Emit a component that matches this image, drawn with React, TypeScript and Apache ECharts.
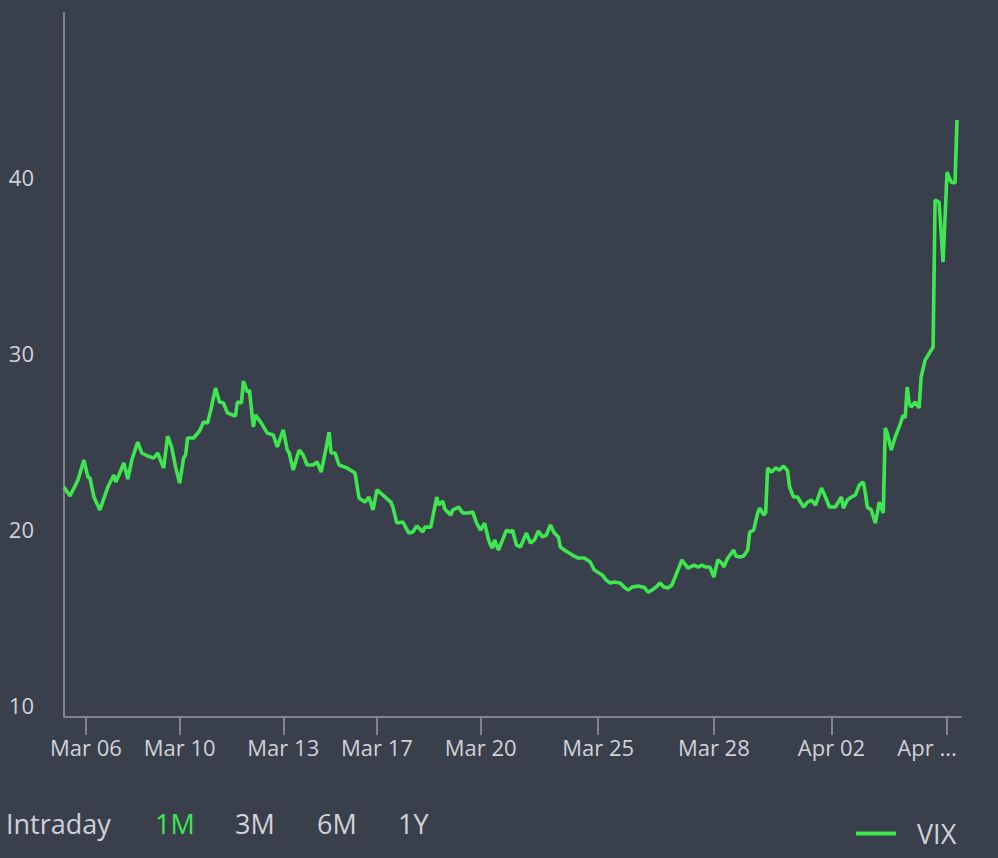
import React, { useEffect, useRef } from "react";
import * as echarts from "echarts";

// x positions (intraday bar index) and VIX values
const pointT = [
  0, 3, 7, 10, 12, 13, 15, 18, 22, 25, 26, 28, 30, 32, 34, 37, 39, 42, 45, 47, 48, 50, 52, 54, 56, 58, 60, 61, 62, 65,
  68, 70, 72, 74, 76, 78, 80, 82, 86, 87, 89, 90, 92, 93, 95, 96, 99, 102, 105, 107, 110, 112, 113, 115, 118, 120, 122,
  125, 127, 129, 131, 133, 134, 136, 138, 142, 146, 148, 151, 153, 155, 157, 160, 164, 165, 167, 170, 173, 175, 177, 180,
  181, 184, 187, 188, 190, 191, 194, 195, 198, 200, 203, 205, 207, 209, 211, 213, 214, 215, 216, 218, 220, 222, 224, 225,
  227, 229, 232, 234, 236, 238, 240, 242, 244, 246, 248, 249, 251, 255, 258, 261, 264, 266, 270, 272, 274, 276, 279, 281,
  283, 285, 288, 290, 291, 293, 295, 297, 299, 301, 303, 305, 308, 310, 313, 316, 318, 320, 322, 324, 326, 328, 330, 331,
  333, 336, 337, 339, 341, 343, 344, 346, 348, 349, 351, 352, 353, 355, 357, 359, 361, 363, 364, 366, 368, 371, 373, 375,
  377, 380, 382, 384, 387, 390, 391, 393, 395, 397, 399, 401, 402, 403, 405, 407, 408, 409, 411, 412, 413, 415, 417, 419,
  421, 422, 423, 424, 425, 427, 429, 430, 432, 436, 437, 439, 441, 443, 445, 447, 448,
];
const vixValues = [
  22.39, 21.88, 22.78, 23.92, 22.95, 22.9, 21.82, 21.08, 22.39, 23.07, 22.67, 23.18, 23.75, 22.84, 23.92, 24.94, 24.32,
  24.15, 24.03, 24.32, 24.03, 23.47, 25.28, 24.66, 23.52, 22.61, 24.03, 24.2, 25.17, 25.17, 25.57, 26.08, 26.02, 26.93,
  28.01, 27.22, 27.16, 26.59, 26.42, 27.22, 27.16, 28.41, 27.78, 27.9, 25.8, 26.48, 26.02, 25.45, 25.34, 24.66, 25.63,
  24.49, 24.32, 23.35, 24.49, 24.2, 23.64, 23.64, 23.81, 23.24, 24.32, 25.51, 24.32, 24.32, 23.64, 23.47, 23.18, 21.76,
  21.53, 21.82, 21.08, 22.22, 21.93, 21.53, 21.25, 20.34, 20.4, 19.77, 19.83, 20.17, 19.83, 20.11, 20.11, 21.82, 21.36,
  21.59, 21.14, 20.8, 21.08, 21.25, 20.91, 20.91, 20.97, 20.34, 19.94, 20.34, 19.38, 19.09, 18.92, 19.38, 18.81, 19.38,
  19.94, 19.83, 19.94, 19.09, 18.98, 19.77, 19.2, 19.38, 19.89, 19.55, 19.66, 20.23, 19.77, 19.55, 18.98, 18.81, 18.52,
  18.35, 18.35, 18.13, 17.67, 17.39, 17.1, 16.93, 16.99, 16.93, 16.7, 16.53, 16.7, 16.76, 16.7, 16.7, 16.42, 16.53, 16.7,
  16.93, 16.7, 16.65, 16.82, 17.67, 18.24, 17.78, 17.95, 17.84, 17.95, 17.84, 17.84, 17.27, 18.24, 18.07, 17.84, 18.35,
  18.81, 18.47, 18.41, 18.47, 18.81, 19.83, 19.94, 20.91, 21.19, 20.8, 20.91, 23.47, 23.24, 23.47, 23.35, 23.58, 23.3,
  22.39, 21.82, 21.82, 21.25, 21.53, 21.65, 21.36, 22.33, 21.82, 21.25, 21.25, 21.82, 21.19, 21.65, 21.82, 21.93, 22.5,
  22.67, 22.05, 21.25, 21.08, 20.34, 20.91, 21.53, 20.91, 25.74, 25.45, 24.49, 25.23, 25.8, 26.48, 26.31, 28.07, 27.16,
  26.93, 27.22, 26.88, 28.64, 29.6, 30.34, 38.69, 38.58, 35.17, 40.28, 39.72, 39.66, 43.24,
];

const tickT = [11, 58, 110, 157, 209, 268, 326, 385, 443];
const tickLabels = ["Mar 06", "Mar 10", "Mar 13", "Mar 17", "Mar 20", "Mar 25", "Mar 28", "Apr 02", "Apr ..."];
const yTicks = [10, 20, 30, 40];
const rangeButtons = ["Intraday", "1M", "3M", "6M", "1Y"];
const rangeLeft = [6, 155, 235, 317, 398];
const activeRange = "1M";

const BG = "#3a3f4c";
const TEXT = "#cfd2d9";
const AXIS = "#80848c";
const GREEN = "#3ee650";
const FONT = "'Open Sans', 'Noto Sans', sans-serif";

export default function App() {
  const ref = useRef<HTMLDivElement>(null);
  useEffect(() => {
    if (!ref.current) return;
    const chart = echarts.init(ref.current, undefined, { renderer: "svg" });
    const data = pointT.map((t, i) => [t, vixValues[i]]);
    chart.setOption({
      animation: false,
      backgroundColor: BG,
      textStyle: { fontFamily: FONT },
      grid: { left: 64, right: 37, top: 13, bottom: 141, containLabel: false },
      legend: {
        data: ["VIX"],
        left: 856,
        top: 820,
        padding: 0,
        icon: "rect",
        itemWidth: 40,
        itemHeight: 4,
        textStyle: { color: TEXT, fontSize: 27, fontFamily: FONT, padding: [0, 0, 0, 16] },
      },
      xAxis: {
        type: "value",
        min: 0,
        max: 450,
        splitLine: { show: false },
        axisLine: { show: true, lineStyle: { color: AXIS, width: 2 } },
        axisTick: { show: true, length: 18, lineStyle: { color: AXIS, width: 2 }, customValues: tickT },
        axisLabel: {
          customValues: tickT,
          color: TEXT,
          fontSize: 22,
          fontFamily: FONT,
          margin: 19,
          rich: {
            last: { color: TEXT, fontSize: 22, fontFamily: FONT, padding: [0, 40, 0, 0] },
          },
          formatter: (v: number) => {
            const i = tickT.indexOf(v);
            if (i < 0) return "";
            return i === tickT.length - 1 ? `{last|${tickLabels[i]}}` : tickLabels[i];
          },
        },
      },
      yAxis: {
        type: "value",
        min: 9.32,
        max: 49.32,
        splitLine: { show: false },
        axisLine: { show: true, lineStyle: { color: AXIS, width: 2 } },
        axisTick: { show: false },
        axisLabel: {
          customValues: yTicks,
          color: TEXT,
          fontSize: 22,
          fontFamily: FONT,
          margin: 30,
        },
      },
      series: [
        {
          name: "VIX",
          type: "line",
          data,
          symbol: "none",
          showSymbol: false,
          color: GREEN,
          lineStyle: { color: GREEN, width: 3.6 },
        },
      ],
      graphic: rangeButtons.map((label, i) => ({
        type: "text",
        left: rangeLeft[i],
        top: 810,
        style: {
          text: label,
          fill: label === activeRange ? GREEN : TEXT,
          fontSize: 27,
          fontFamily: FONT,
        },
      })),
    });
    return () => chart.dispose();
  }, []);
  return (
    <div
      ref={ref}
      style={{ position: "fixed", left: 0, top: 0, width: 998, height: 858 }}
    />
  );
}
